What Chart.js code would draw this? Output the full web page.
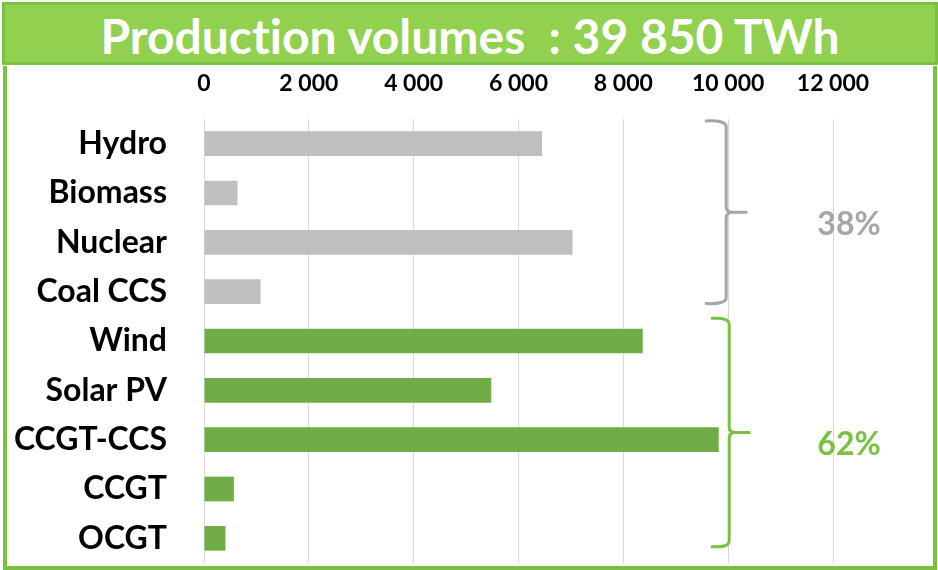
<!DOCTYPE html>
<html>
<head>
<meta charset="utf-8">
<script src="https://cdn.jsdelivr.net/npm/chart.js@4"></script>
<style>
  html, body { margin: 0; padding: 0; background: #fff; }
  body { width: 938px; height: 570px; position: relative; overflow: hidden; font-family: Lato, sans-serif; }
  #title {
    position: absolute; left: 2px; top: 2px; width: 930px; height: 57px;
    background: #92d050; border: 3px solid #7ac142;
    color: #fff; font-weight: bold; font-size: 48px; line-height: 62px;
    text-align: center; white-space: pre; font-variant-ligatures: none;
  }
  #frame {
    position: absolute; left: 3px; top: 66px; width: 926px; height: 500px;
    border-left: 4px solid #7ac142; border-right: 4px solid #7ac142; border-bottom: 4px solid #7ac142;
  }
  #volumes-chart { position: absolute; left: 0; top: 0; }
</style>
</head>
<body>
<div id="title"></div>
<div id="frame"><canvas id="volumes-chart" width="926" height="500"></canvas></div>
<script>
// Generation by technology, TWh
const technologies = ['Hydro', 'Biomass', 'Nuclear', 'Coal CCS', 'Wind', 'Solar PV', 'CCGT-CCS', 'CCGT', 'OCGT'];
const volumes = [6450, 640, 7030, 1080, 8370, 5480, 9820, 570, 410];
// first four are the grey group, the rest the green group
const groups = ['grey', 'grey', 'grey', 'grey', 'green', 'green', 'green', 'green', 'green'];
const xTicks = [0, 2000, 4000, 6000, 8000, 10000, 12000];

const GREY_BAR = '#bfbfbf';
const GREEN_BAR = '#70ad47';
const GREY_BRACE = '#a6a6a6';
const GREEN_BRACE = '#7ac142';

const fmt = n => String(Math.round(n)).replace(/\B(?=(\d{3})+(?!\d))/g, ' ');

const total = volumes.reduce((a, b) => a + b, 0);
document.getElementById('title').textContent = `Production volumes  : ${fmt(total)} TWh`;

const groupInfo = (name) => {
  const idx = groups.map((g, i) => g === name ? i : -1).filter(i => i >= 0);
  const sum = idx.reduce((a, i) => a + volumes[i], 0);
  return { first: idx[0], last: idx[idx.length - 1], share: Math.round(sum / total * 100) };
};

// curly brace on the right of each group with its share of the total
const bracePlugin = {
  id: 'braces',
  afterDraw(chart) {
    const { ctx, scales: { x, y } } = chart;
    const step = y.getPixelForValue(1) - y.getPixelForValue(0);
    const specs = [
      { name: 'grey', color: GREY_BRACE, dx: -2, endOff: 0.24, left: 20 },
      { name: 'green', color: GREEN_BRACE, dx: 1, endOff: 0.17, left: 17 }
    ];
    specs.forEach(s => {
      const g = groupInfo(s.name);
      const top = y.getPixelForValue(g.first) - 0.46 * step;
      const bot = y.getPixelForValue(g.last) + s.endOff * step;
      const mid = (top + bot) / 2;
      const bx = x.getPixelForValue(10000) + s.dx;
      const r = 6;
      ctx.save();
      ctx.strokeStyle = s.color;
      ctx.lineWidth = 3;
      ctx.lineCap = 'round';
      ctx.beginPath();
      ctx.moveTo(bx - s.left, top);
      ctx.quadraticCurveTo(bx, top - 1, bx, top + r);
      ctx.lineTo(bx, mid - r);
      ctx.quadraticCurveTo(bx, mid, bx + r, mid);
      ctx.lineTo(bx + 20, mid);
      ctx.moveTo(bx + r, mid);
      ctx.quadraticCurveTo(bx, mid, bx, mid + r);
      ctx.lineTo(bx, bot - r);
      ctx.quadraticCurveTo(bx, bot + 1, bx - s.left, bot);
      ctx.stroke();

      ctx.fillStyle = s.color;
      ctx.font = 'bold 32px Lato';
      ctx.textAlign = 'center';
      ctx.textBaseline = 'middle';
      ctx.fillText(`${g.share}%`, x.getPixelForValue(12000) + 16, mid + 12);
      ctx.restore();
    });
  }
};

new Chart(document.getElementById('volumes-chart'), {
  type: 'bar',
  data: {
    labels: technologies,
    datasets: [{
      data: volumes,
      backgroundColor: groups.map(g => g === 'grey' ? GREY_BAR : GREEN_BAR),
      barPercentage: 0.5,
      categoryPercentage: 1
    }]
  },
  options: {
    indexAxis: 'y',
    responsive: false,
    animation: false,
    layout: { padding: { left: 0, right: 100, top: 0, bottom: 3 } },
    plugins: { legend: { display: false }, tooltip: { enabled: false } },
    scales: {
      x: {
        position: 'top',
        min: 0,
        max: 12000,
        afterBuildTicks: s => { s.ticks = xTicks.map(v => ({ value: v })); },
        afterFit: s => { s.height = 53; },
        grid: { color: '#d9d9d9', lineWidth: 1, drawTicks: false },
        border: { display: false },
        ticks: {
          color: '#000',
          font: { family: 'Lato', weight: 'bold', size: 23 },
          padding: 22,
          maxRotation: 0,
          callback: v => fmt(v)
        }
      },
      y: {
        // the wide label padding would otherwise also be reserved above and below the plot
        afterFit: s => { s.width = 197; s.paddingTop = 0; s.paddingBottom = 0; },
        grid: { display: false, drawTicks: false },
        border: { display: false },
        ticks: {
          color: '#000',
          font: { family: 'Lato', weight: 'bold', size: 32 },
          padding: 37
        }
      }
    }
  },
  plugins: [bracePlugin]
});
</script>
</body>
</html>
